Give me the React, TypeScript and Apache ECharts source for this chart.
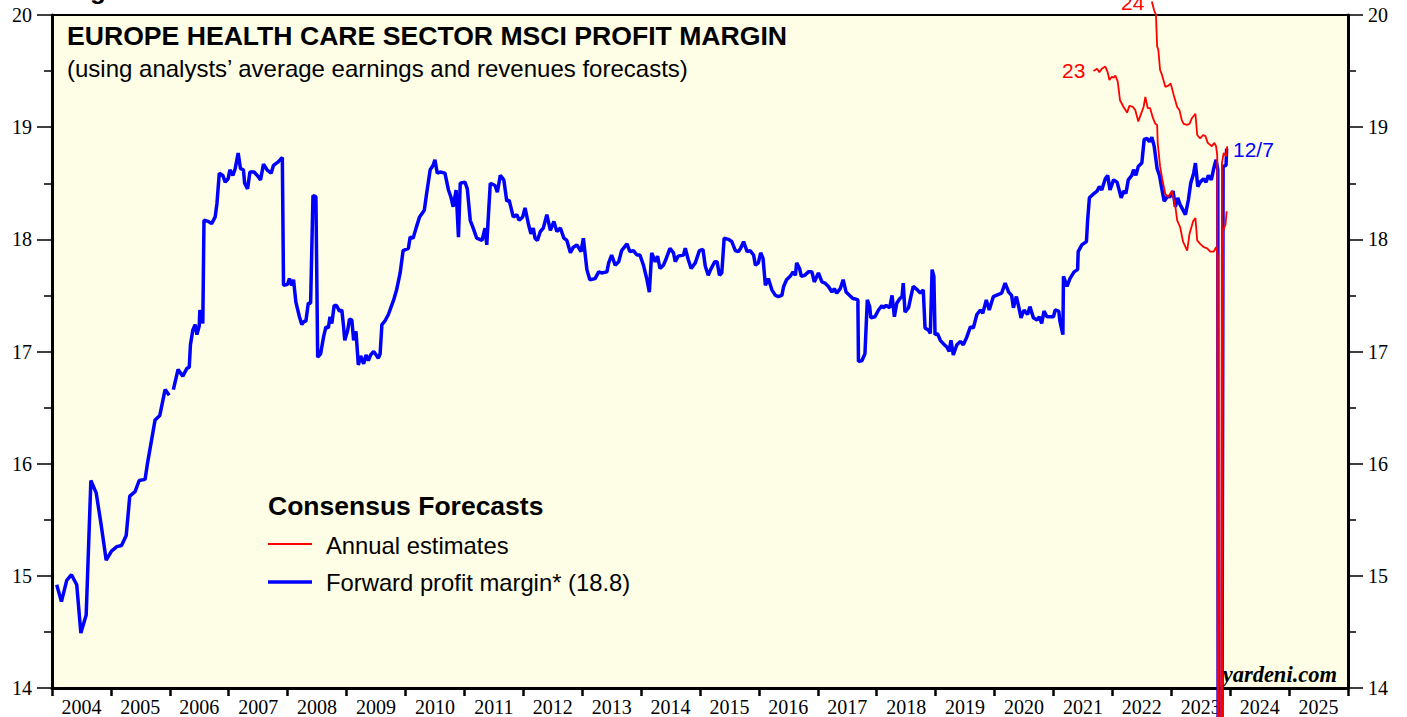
import React, { useEffect, useRef } from "react";
import * as echarts from "echarts";

const YEARS = ["2004","2005","2006","2007","2008","2009","2010","2011","2012","2013","2014","2015","2016","2017","2018","2019","2020","2021","2022","2023","2024","2025"];

// Forward profit margin (blue), decimal year / percent
const fwdT = [
  2004.08,2004.16,2004.25,2004.33,2004.42,2004.49,2004.58,2004.66,2004.75,2004.83,2004.92,
  2005.01,2005.10,2005.18,2005.26,2005.32,2005.41,2005.48,2005.58,2005.62,2005.69,2005.75,2005.83,2005.92,2005.99,
  2006.02,2006.06,2006.14,2006.22,2006.29,2006.33,2006.35,2006.39,2006.43,2006.46,2006.50,2006.51,2006.56,2006.58,2006.65,2006.71,2006.77,2006.80,2006.84,2006.90,2006.94,2006.99,
  2007.02,2007.07,2007.11,2007.16,2007.20,2007.25,2007.27,2007.32,2007.36,2007.43,2007.50,2007.54,2007.59,2007.65,2007.72,2007.76,2007.84,2007.91,2007.93,
  2008.00,2008.03,2008.07,2008.10,2008.14,2008.20,2008.24,2008.28,2008.31,2008.35,2008.39,2008.43,2008.48,2008.51,2008.56,2008.61,2008.65,2008.69,2008.72,2008.75,2008.79,2008.83,2008.88,2008.92,2008.95,2008.97,
  2009.02,2009.05,2009.09,2009.12,2009.16,2009.20,2009.24,2009.29,2009.33,2009.37,2009.41,2009.46,2009.50,2009.54,2009.57,2009.60,2009.65,2009.71,2009.80,2009.85,2009.91,2009.96,
  2010.05,2010.08,2010.13,2010.18,2010.24,2010.32,2010.36,2010.42,2010.47,2010.50,2010.54,2010.59,2010.67,2010.73,2010.77,2010.81,2010.86,2010.90,2010.93,
  2011.01,2011.05,2011.10,2011.15,2011.21,2011.30,2011.35,2011.38,2011.41,2011.44,2011.52,2011.56,2011.61,2011.67,2011.72,2011.76,2011.83,2011.89,2011.93,2011.99,
  2012.03,2012.09,2012.13,2012.17,2012.20,2012.24,2012.29,2012.34,2012.40,2012.46,2012.52,2012.57,2012.63,2012.69,2012.74,2012.80,2012.85,2012.91,2012.98,
  2013.02,2013.08,2013.13,2013.22,2013.28,2013.33,2013.42,2013.45,2013.50,2013.56,2013.62,2013.67,2013.76,2013.81,2013.87,2013.93,2013.98,
  2014.04,2014.10,2014.14,2014.18,2014.24,2014.28,2014.32,2014.38,2014.42,2014.49,2014.55,2014.58,2014.63,2014.72,2014.75,2014.80,2014.85,2014.92,2014.99,
  2015.05,2015.09,2015.14,2015.18,2015.25,2015.29,2015.33,2015.37,2015.41,2015.48,2015.54,2015.60,2015.65,2015.69,2015.74,2015.80,2015.85,2015.91,2015.94,2015.99,
  2016.03,2016.07,2016.11,2016.16,2016.22,2016.28,2016.33,2016.39,2016.42,2016.47,2016.53,2016.58,2016.62,2016.64,2016.69,2016.72,2016.78,2016.84,2016.90,2016.94,
  2017.01,2017.07,2017.12,2017.18,2017.24,2017.28,2017.32,2017.38,2017.43,2017.48,2017.54,2017.60,2017.63,2017.68,2017.69,2017.75,2017.80,2017.84,2017.88,2017.90,2017.97,
  2018.03,2018.09,2018.11,2018.16,2018.22,2018.26,2018.30,2018.34,2018.39,2018.43,2018.45,2018.48,2018.54,2018.58,2018.62,2018.69,2018.74,2018.79,2018.82,2018.88,2018.91,2018.94,2018.97,2018.99,
  2019.03,2019.08,2019.13,2019.19,2019.23,2019.26,2019.30,2019.36,2019.42,2019.47,2019.53,2019.59,2019.64,2019.70,2019.76,2019.80,2019.86,2019.91,2019.98,
  2020.07,2020.12,2020.18,2020.24,2020.29,2020.32,2020.37,2020.41,2020.45,2020.50,2020.56,2020.60,2020.66,2020.72,2020.76,2020.80,2020.84,2020.89,2020.94,
  2021.00,2021.03,2021.09,2021.11,2021.16,2021.17,2021.23,2021.28,2021.35,2021.41,2021.42,2021.48,2021.56,2021.58,2021.61,2021.67,2021.74,2021.78,2021.82,2021.88,2021.92,2021.96,
  2022.02,2022.08,2022.15,2022.19,2022.23,2022.27,2022.33,2022.36,2022.40,2022.44,2022.50,2022.54,2022.59,2022.63,2022.67,2022.71,2022.76,2022.80,2022.84,2022.88,2022.93,2022.98,
  2023.03,2023.07,2023.11,2023.15,2023.20,2023.24,2023.29,2023.33,2023.38,2023.41,2023.45,2023.49,2023.55,2023.59,2023.63,2023.68,2023.72,2023.76,2023.79,2023.81,2023.88,2023.93,2023.94
];
const fwdV = [
  14.92,14.77,14.96,15.01,14.92,14.49,14.65,15.85,15.74,15.47,15.14,
  15.22,15.26,15.27,15.36,15.71,15.75,15.85,15.86,16.0,16.21,16.39,16.43,16.66,16.61,
  null,16.66,16.84,16.78,16.85,16.86,17.06,17.19,17.24,17.15,17.23,17.37,17.25,18.17,18.16,18.14,18.20,18.32,18.59,18.57,18.51,18.54,
  18.62,18.57,18.63,18.77,18.63,18.62,18.50,18.45,18.60,18.60,18.56,18.53,18.67,18.62,18.59,18.66,18.69,18.73,17.59,
  17.60,17.65,17.59,17.64,17.44,17.31,17.24,17.27,17.27,17.43,17.43,18.39,18.38,16.95,16.98,17.13,17.22,17.21,17.31,17.25,17.41,17.41,17.36,17.37,17.22,17.10,
  17.19,17.29,17.28,17.10,17.18,16.88,16.96,16.89,16.97,16.92,16.97,17.00,16.97,16.94,16.98,17.24,17.27,17.33,17.46,17.55,17.70,17.90,
  17.92,18.02,18.01,18.10,18.20,18.26,18.41,18.62,18.66,18.71,18.59,18.60,18.59,18.44,18.38,18.29,18.44,18.02,18.50,
  18.51,18.45,18.17,18.10,18.01,17.99,18.10,17.95,18.23,18.50,18.48,18.42,18.57,18.53,18.34,18.35,18.20,18.22,18.17,18.20,
  18.28,18.13,18.05,18.10,18.01,17.99,18.07,18.10,18.22,18.08,18.16,18.07,18.10,18.01,17.99,17.88,17.93,17.95,17.89,
  18.01,17.73,17.64,17.65,17.71,17.70,17.71,17.79,17.86,17.77,17.80,17.90,17.96,17.89,17.90,17.86,17.86,
  17.77,17.64,17.53,17.88,17.80,17.85,17.74,17.77,17.82,17.92,17.88,17.80,17.85,17.86,17.92,17.82,17.74,17.79,17.90,
  17.91,17.76,17.68,17.73,17.80,17.80,17.68,17.70,18.01,18.00,17.98,17.90,17.89,17.92,17.98,17.89,17.90,17.86,17.77,17.79,
  17.88,17.83,17.59,17.65,17.55,17.50,17.49,17.50,17.58,17.64,17.67,17.71,17.68,17.79,17.74,17.67,17.68,17.71,17.71,17.62,
  17.70,17.62,17.61,17.58,17.53,17.56,17.52,17.56,17.64,17.53,17.50,17.47,17.47,17.46,16.91,16.92,16.98,17.46,17.40,17.30,17.31,
  17.37,17.41,17.39,17.41,17.39,17.50,17.31,17.43,17.47,17.49,17.61,17.35,17.39,17.49,17.58,17.55,17.52,17.55,17.21,17.19,17.16,17.73,17.67,17.15,
  17.16,17.10,17.07,17.04,17.00,17.10,16.97,17.06,17.09,17.06,17.13,17.22,17.21,17.33,17.37,17.34,17.46,17.37,17.49,
  17.51,17.52,17.61,17.53,17.50,17.39,17.49,17.40,17.30,17.37,17.33,17.40,17.30,17.28,17.31,17.25,17.36,17.31,17.31,
  17.31,17.37,17.36,17.27,17.15,17.67,17.58,17.65,17.71,17.73,17.89,17.95,17.98,18.17,18.37,18.40,18.43,18.47,18.44,18.54,18.57,18.44,
  18.53,18.51,18.37,18.43,18.41,18.53,18.57,18.62,18.57,18.65,18.68,18.89,18.90,18.87,18.91,18.83,18.63,18.57,18.45,18.34,18.38,18.38,
  18.43,18.29,18.37,18.31,18.26,18.22,18.35,18.50,18.59,18.68,18.47,18.51,18.54,18.51,18.57,18.53,18.63,18.71,18.62,0,18.65,18.66,18.81
];

// Annual estimates (red): 2023 and 2024
const est23T = [
  2021.68,2021.74,2021.78,2021.82,2021.88,2021.92,2021.95,2021.99,2022.02,2022.05,2022.09,2022.13,2022.19,2022.25,2022.29,2022.35,2022.39,2022.44,2022.48,2022.53,2022.56,2022.60,2022.64,2022.69,2022.73,2022.76,2022.77,2022.81,2022.85,2022.90,2022.95,
  2023.01,2023.07,2023.10,2023.15,2023.20,2023.27,2023.31,2023.37,2023.41,2023.44,2023.49,2023.55,2023.61,2023.66,2023.72,2023.76,2023.79,2023.81,2023.88,2023.92,2023.94
];
const est23V = [
  19.50,19.52,19.49,19.52,19.54,19.49,19.42,19.45,19.44,19.46,19.41,19.24,19.18,19.13,19.19,19.18,19.15,19.05,19.11,19.18,19.27,19.17,19.17,19.08,19.03,19.02,18.86,18.65,18.53,18.40,18.38,
  18.43,18.29,18.17,18.11,17.98,17.90,18.05,18.16,18.19,17.99,17.96,17.93,17.92,17.89,17.89,17.93,17.85,0,18.08,18.13,18.25
];
const est24T = [
  2022.67,2022.71,2022.74,2022.76,2022.78,2022.81,2022.84,2022.90,2022.95,2022.99,2023.04,2023.10,2023.14,2023.18,2023.21,2023.27,2023.31,2023.35,2023.41,2023.44,2023.49,2023.54,2023.58,2023.62,2023.69,2023.73,2023.76,2023.78,2023.815,2023.86,2023.89,2023.93,2023.95
];
const est24V = [
  20.12,20.04,20.00,19.72,19.69,19.51,19.47,19.36,19.37,19.39,19.29,19.18,19.15,19.06,19.03,19.02,19.03,19.08,19.12,18.93,18.90,18.93,18.92,18.86,18.83,18.86,18.83,18.75,0,18.68,18.77,18.74,18.83
];

const pairs = (t: number[], v: (number | null)[]) => t.map((x, i) => [x, v[i]]);

const SANS = '"Liberation Sans", Arial, sans-serif';
const SERIF = '"Liberation Serif", "Times New Roman", serif';

export default function App() {
  const ref = useRef<HTMLDivElement>(null);
  useEffect(() => {
    if (!ref.current) return;
    const chart = echarts.init(ref.current, undefined, { renderer: "svg" });
    const yAxisBase = {
      type: "value",
      min: 14,
      max: 20,
      interval: 1,
      axisLine: { show: true, lineStyle: { color: "#000", width: 3 } },
      axisTick: { show: true, length: 15, lineStyle: { color: "#000", width: 1.5 } },
      minorTick: { show: true, splitNumber: 2, length: 8, lineStyle: { color: "#000", width: 1.5 } },
      splitLine: { show: false },
      axisLabel: { color: "#000", fontFamily: SERIF, fontSize: 20, margin: 20 },
    };
    chart.setOption({
      animation: false,
      grid: {
        left: 52, right: 59, top: 15, bottom: 29,
        show: true, backgroundColor: "#fefee6", borderColor: "#000", borderWidth: 2,
      },
      xAxis: [
        {
          type: "category",
          data: YEARS,
          boundaryGap: true,
          axisLine: { show: true, lineStyle: { color: "#000", width: 3 } },
          axisTick: { show: true, interval: 0, alignWithLabel: false, length: 8, lineStyle: { color: "#000", width: 2.5 } },
          axisLabel: { interval: 0, color: "#000", fontFamily: SERIF, fontSize: 20, margin: 9 },
          splitLine: { show: false },
        },
        { type: "value", min: 2004, max: 2026, show: false },
      ],
      yAxis: [
        { ...yAxisBase, position: "left" },
        { ...yAxisBase, position: "right" },
      ],
      series: [
        {
          type: "line", xAxisIndex: 1, yAxisIndex: 0, data: pairs(fwdT, fwdV),
          showSymbol: false, symbol: "none", clip: false, connectNulls: false,
          lineStyle: { color: "#0000ff", width: 3.5 }, z: 3,
        },
        {
          type: "line", xAxisIndex: 1, yAxisIndex: 0, data: pairs(est23T, est23V),
          showSymbol: false, symbol: "none", clip: false,
          lineStyle: { color: "#ff0000", width: 1.8 }, z: 4,
        },
        {
          type: "line", xAxisIndex: 1, yAxisIndex: 0, data: pairs(est24T, est24V),
          showSymbol: false, symbol: "none", clip: false,
          lineStyle: { color: "#ff0000", width: 1.8 }, z: 4,
        },
      ],
      graphic: [
        { type: "text", x: 67, y: -10, style: { text: "Figure 6", font: `bold 26px ${SANS}`, fill: "#000", verticalAlign: "middle" } },
        { type: "text", x: 67, y: 36, style: { text: "EUROPE HEALTH CARE SECTOR MSCI PROFIT MARGIN", font: `bold 26.6px ${SANS}`, fill: "#000", verticalAlign: "middle" } },
        { type: "text", x: 67, y: 68, style: { text: "(using analysts\u2019 average earnings and revenues forecasts)", font: `24px ${SANS}`, fill: "#000", verticalAlign: "middle" } },
        { type: "text", x: 268, y: 506, style: { text: "Consensus Forecasts", font: `bold 26.5px ${SANS}`, fill: "#000", verticalAlign: "middle" } },
        { type: "line", shape: { x1: 268, y1: 544, x2: 312, y2: 544 }, style: { stroke: "#ff0000", lineWidth: 1.8 } },
        { type: "text", x: 326, y: 545, style: { text: "Annual estimates", font: `23.8px ${SANS}`, fill: "#000", verticalAlign: "middle" } },
        { type: "line", shape: { x1: 268, y1: 582, x2: 312, y2: 582 }, style: { stroke: "#0000ff", lineWidth: 3.5 } },
        { type: "text", x: 326, y: 582, style: { text: "Forward profit margin* (18.8)", font: `23.8px ${SANS}`, fill: "#000", verticalAlign: "middle" } },
        { type: "text", x: 1233, y: 149, style: { text: "12/7", font: `21px ${SANS}`, fill: "#0000ff", verticalAlign: "middle" } },
        { type: "text", x: 1062, y: 70, style: { text: "23", font: `21px ${SANS}`, fill: "#ff0000", verticalAlign: "middle" } },
        { type: "text", x: 1121, y: 2, style: { text: "24", font: `21px ${SANS}`, fill: "#ff0000", verticalAlign: "middle" } },
        { type: "text", x: 1337, y: 674, style: { text: "yardeni.com", font: `italic bold 22.5px ${SERIF}`, fill: "#000", align: "right", verticalAlign: "middle" } },
      ],
    });
    return () => chart.dispose();
  }, []);
  return <div ref={ref} style={{ position: "absolute", left: 0, top: 0, width: 1407, height: 717 }} />;
}
